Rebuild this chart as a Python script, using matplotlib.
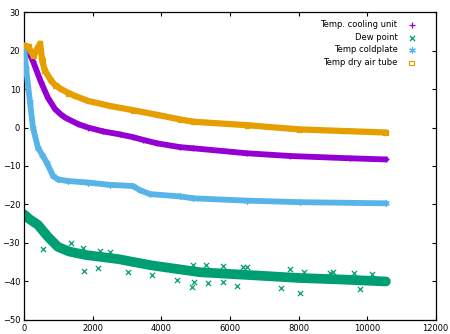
# Temperatures during cooldown, gnuplot-style scatter
import numpy as np
import matplotlib
matplotlib.use("Agg")
import matplotlib.pyplot as plt

# values (time in s, temperature in degC)
t_cool = [0, 100, 254, 487, 691, 896, 1040, 1187, 1566, 1858, 2295, 2790, 3170, 3460,
          3870, 4540, 4930, 6500, 7750, 9500, 10550]
v_cool = [20.8, 20.2, 17.2, 11.8, 7.7, 4.8, 3.6, 2.6, 0.9, 0.0, -1.0, -1.8, -2.5, -3.2,
          -4.1, -5.1, -5.4, -6.7, -7.4, -8.0, -8.3]

t_dew = [0, 150, 400, 690, 980, 1300, 1780, 2750, 3700, 5130, 6500, 8040, 9300, 10550]
v_dew = [-22.6, -23.8, -25.3, -28.4, -31.0, -32.2, -33.1, -34.2, -35.8, -37.6,
         -38.3, -39.1, -39.5, -40.0]
# scattered dew point readings away from the main band
t_dew_out = [545, 1360, 1710, 1740, 2210, 2150, 2500, 3025, 3725, 4455, 4890, 4920,
             4950, 5300, 5360, 5800, 5800, 6200, 6380, 6500, 7490, 7750, 8040, 8160,
             8920, 9010, 9620, 9790, 10140]
v_dew_out = [-31.6, -30.0, -31.3, -37.3, -32.1, -36.5, -32.3, -37.5, -38.3, -39.6,
             -41.4, -35.7, -40.1, -35.7, -40.4, -36.0, -40.1, -41.2, -36.2, -36.2,
             -41.7, -36.8, -43.0, -37.5, -37.8, -37.5, -37.8, -42.0, -38.0]

t_cold = [0, 50, 166, 254, 400, 530, 660, 840, 980, 1275, 1858, 2500, 3170, 3375, 3670,
          4540, 4930, 6500, 8040, 10550]
v_cold = [20.0, 15.5, 6.6, -0.1, -5.3, -7.2, -9.2, -12.6, -13.5, -13.9, -14.3, -14.9,
          -15.2, -16.3, -17.3, -17.9, -18.4, -19.0, -19.4, -19.7]

t_dry = [0, 120, 270, 380, 460, 520, 600, 780, 900, 1070, 1300, 1480, 1860, 2500, 3170,
         3870, 4540, 4930, 6500, 8040, 9300, 10550]
v_dry = [21.3, 21.0, 18.6, 20.5, 21.8, 17.5, 14.8, 12.2, 11.0, 10.0, 8.9, 8.2, 6.9,
         5.6, 4.5, 3.3, 2.1, 1.5, 0.6, -0.5, -0.9, -1.3]

purple = '#9400d3'
green = '#009e73'
blue = '#56b4e9'
orange = '#e69f00'

plt.rcParams['font.family'] = 'DejaVu Sans'
fig = plt.figure(figsize=(4.5, 3.34), dpi=100)
ax = fig.add_axes([0.054, 0.042, 0.914, 0.922])

# dense point clouds drawn as thick bands
ax.plot(t_cool, v_cool, color=purple, lw=4.2, solid_capstyle='round',
        solid_joinstyle='round', zorder=2)
ax.plot(t_dew, v_dew, color=green, lw=7, solid_capstyle='round',
        solid_joinstyle='round', zorder=2)
ax.scatter(t_dew_out, v_dew_out, marker='x', s=14, color=green, lw=0.9, zorder=2)
ax.plot(t_cold, v_cold, color=blue, lw=4.2, solid_capstyle='round',
        solid_joinstyle='round', zorder=3)
ax.plot(t_dry, v_dry, color=orange, lw=4.5, solid_capstyle='round',
        solid_joinstyle='round', zorder=4)

ax.scatter(t_cool, v_cool, marker='+', s=16, color=purple, lw=0.9, zorder=2,
           label='Temp. cooling unit')
ax.scatter(t_dew, v_dew, marker='x', s=14, color=green, lw=0.9, zorder=2,
           label='Dew point')
ax.scatter(t_cold, v_cold, marker=(6, 2, 0), s=16, color=blue, lw=0.9, zorder=3,
           label='Temp coldplate')
ax.scatter(t_dry, v_dry, marker='s', s=12, facecolor='none', edgecolor=orange,
           lw=0.9, zorder=4, label='Temp dry air tube')

ax.set_xlim(0, 12000)
ax.set_ylim(-50, 30)
ax.set_xticks(np.arange(0, 12001, 2000))
ax.set_yticks(np.arange(-50, 31, 10))
ax.tick_params(direction='in', top=True, right=True, length=3, width=0.8,
               labelsize=6, pad=3)
for s in ax.spines.values():
    s.set_linewidth(0.9)

ax.legend(loc='upper right', bbox_to_anchor=(0.96, 0.985), frameon=False,
          markerfirst=False, fontsize=6, handlelength=1, handletextpad=1.2,
          labelspacing=0.45, borderaxespad=0)

fig.savefig('out.png', dpi=100)
